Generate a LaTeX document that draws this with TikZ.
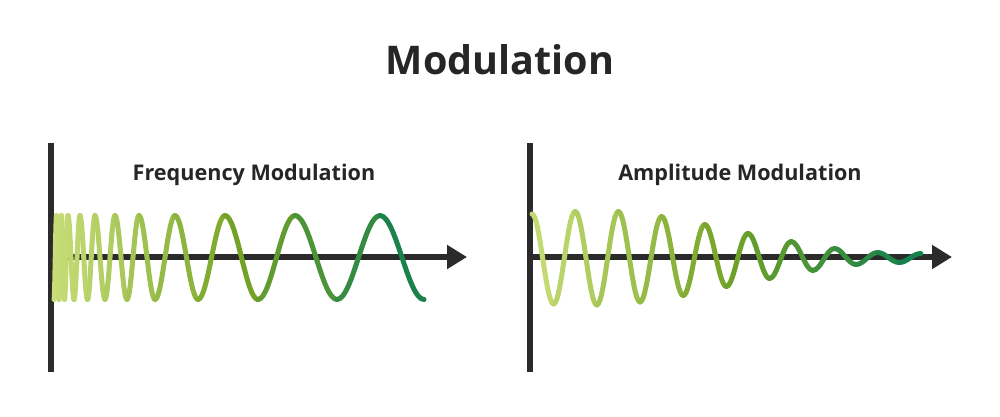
\documentclass[tikz,border=0pt]{standalone}
\usepackage{fontspec}
\setmainfont{Open Sans}
\usetikzlibrary{arrows.meta}
\definecolor{ink}{HTML}{262626}
\definecolor{axiscol}{HTML}{2B2B2B}
\definecolor{gA}{RGB}{200,221,120}
\definecolor{gB}{RGB}{116,163,38}
\definecolor{gC}{RGB}{16,126,80}
\newcommand\wavecolor[3]{% midpoint x, start x, end x -> colour wc
  \pgfmathsetmacro\pp{max(0,min(200,((#1)-(#2))/((#3)-(#2))*200))}%
  \ifdim\pp pt<100pt
    \colorlet{wc}{gB!\pp!gA}%
  \else
    \pgfmathsetmacro\qq{\pp-100}%
    \colorlet{wc}{gC!\qq!gB}%
  \fi}
\begin{document}
\begin{tikzpicture}[x=1pt,y=-1pt,
  axisline/.style={draw=axiscol, line width=5.5pt},
  arrowaxis/.style={axisline, -{Triangle[length=20pt,width=23pt]}},
  wave/.style={line width=5pt, line cap=round, line join=round},
  lbl/.style={font=\bfseries\fontsize{21.6}{25}\selectfont, text=ink, anchor=base, inner sep=0pt},
  ttl/.style={font=\bfseries\fontsize{39.5}{44}\selectfont, text=ink, anchor=base, inner sep=0pt}]
\fill[white] (0,0) rectangle (1000,417);
\useasboundingbox (0,0) rectangle (1000,417);

% titles
\node[ttl] (title) at (500,75) {Modulation};
\node[lbl] (fmlabel) at (254,180) {Frequency Modulation};
\node[lbl] (amlabel) at (740,180) {Amplitude Modulation};

% axes
\coordinate (fmtop) at (51,143);
\coordinate (fmbot) at (51,372);
\coordinate (fmorig) at (51,257);
\coordinate (fmend) at (467,257);
\coordinate (amtop) at (530,143);
\coordinate (ambot) at (530,372);
\coordinate (amorig) at (530,257);
\coordinate (amend) at (952,257);
\draw[axisline] (fmtop) -- (fmbot);
\draw[arrowaxis] (fmorig) -- (fmend);
\draw[axisline] (amtop) -- (ambot);
\draw[arrowaxis] (amorig) -- (amend);

% frequency modulated wave (half cycles between extrema)
\foreach \x [count=\i, remember=\x as \lx (initially 54)] in
  {56.5,59,61.5,64.5,68,74,80,87.5,95,105,115,127,139,155,175,198,225,258,295,337,380,424} {
  \pgfmathsetmacro\ya{ifthenelse(isodd(\i),299.5,215.5)}
  \pgfmathsetmacro\yb{ifthenelse(isodd(\i),215.5,299.5)}
  \pgfmathsetmacro\ca{\lx+0.3642*(\x-\lx)}
  \pgfmathsetmacro\cb{\x-0.3642*(\x-\lx)}
  \wavecolor{(\lx+\x)/2}{55}{424}
  \draw[wave, draw=wc] (\lx,\ya) .. controls (\ca,\ya) and (\cb,\yb) .. (\x,\yb);
}

% amplitude modulated wave
\foreach \x/\a [count=\i, remember=\x as \lx (initially 532), remember=\a as \la (initially 44)] in
  {553.6/46, 575.2/46.5, 596.8/47, 618.4/46.5, 640/44, 661.6/41.5, 683.2/37.5, 704.8/33.5,
   726.4/28.5, 748/24.5, 769.6/20.5, 791.2/16.5, 812.8/12.5, 834.4/9.5, 856/6.5,
   877.6/5.5, 899.2/4.5, 920.8/4.5} {
  \pgfmathsetmacro\ya{ifthenelse(isodd(\i),258-\la,258+\la)}
  \pgfmathsetmacro\yb{ifthenelse(isodd(\i),258+\a,258-\a)}
  \pgfmathsetmacro\ca{\lx+0.3642*(\x-\lx)}
  \pgfmathsetmacro\cb{\x-0.3642*(\x-\lx)}
  \wavecolor{(\lx+\x)/2}{532}{921}
  \draw[wave, draw=wc] (\lx,\ya) .. controls (\ca,\ya) and (\cb,\yb) .. (\x,\yb);
}
\end{tikzpicture}
\end{document}
